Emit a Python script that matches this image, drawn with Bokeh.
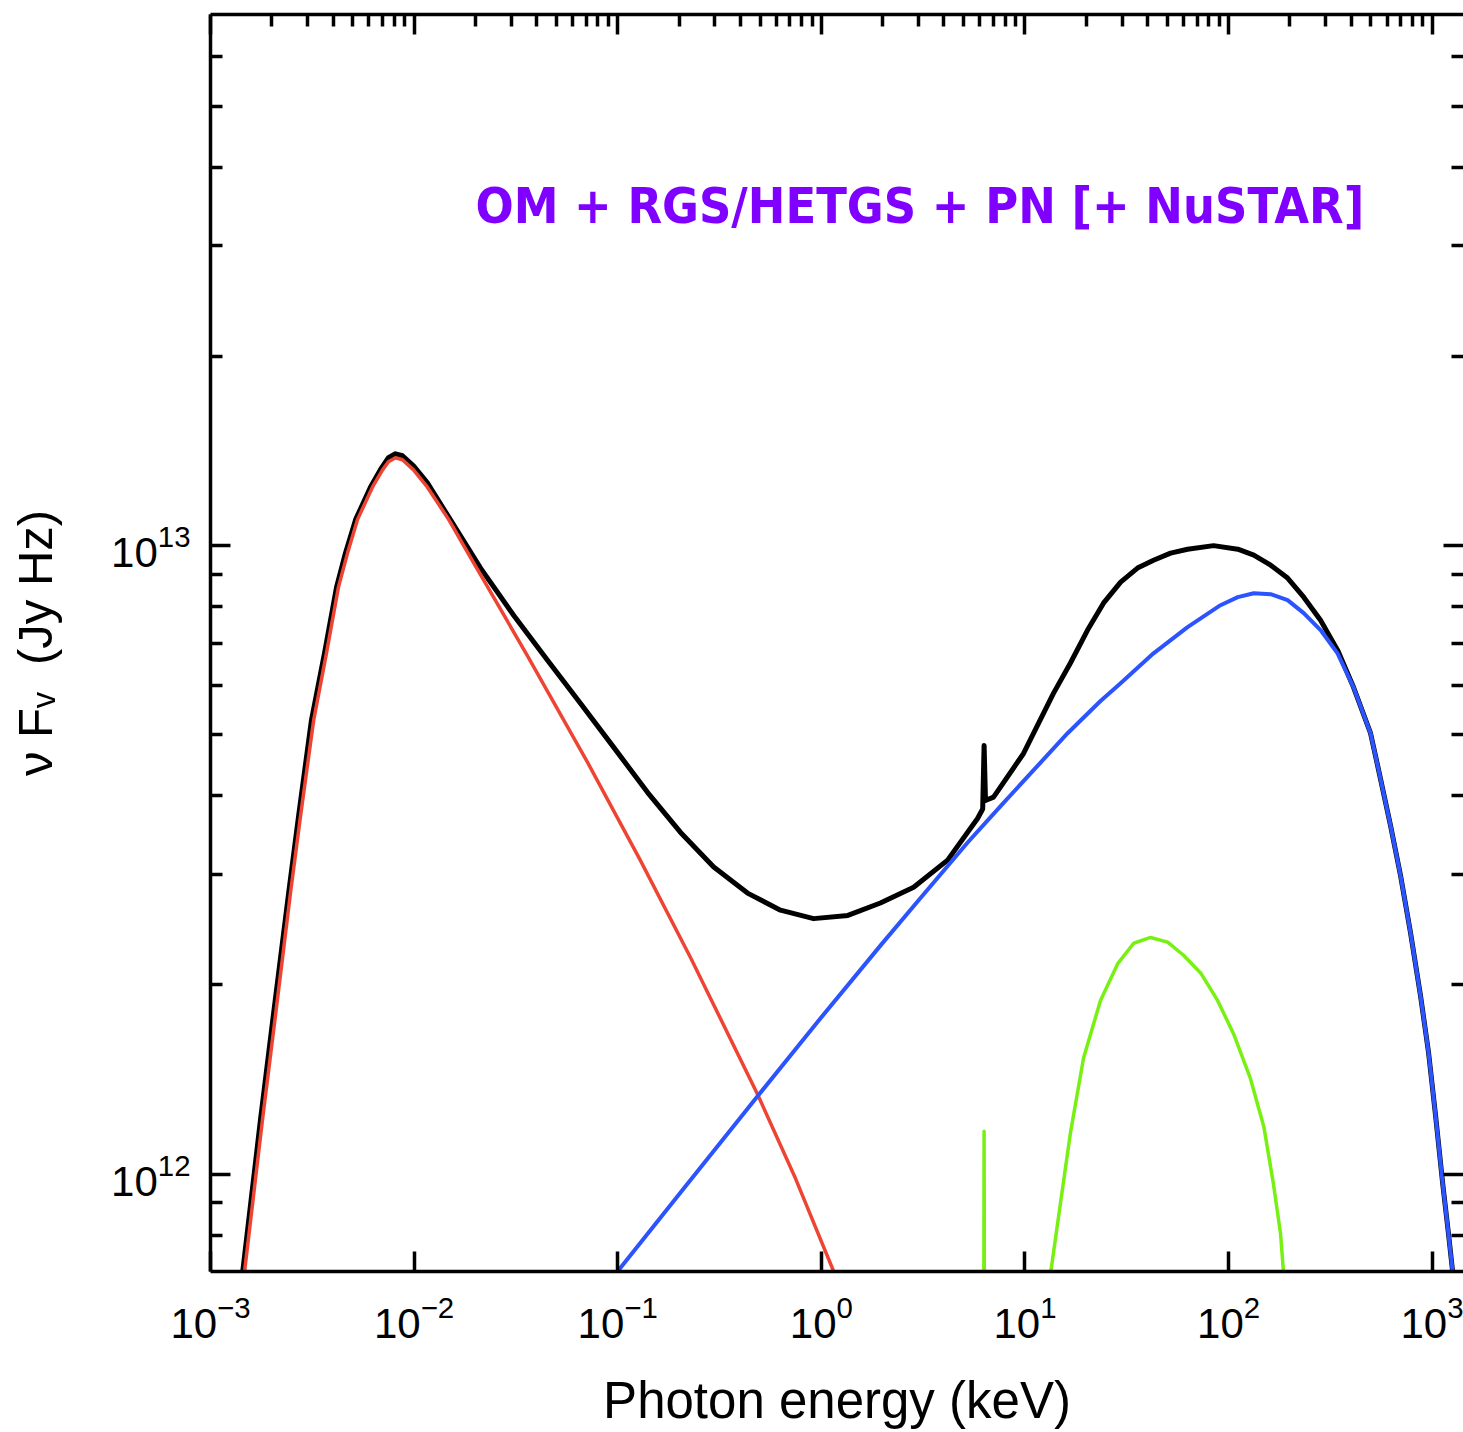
from bokeh.plotting import figure
from bokeh.models import LogAxis, FixedTicker, Label, Range1d
from bokeh.embed import file_html
from bokeh.resources import INLINE

# ---------------- data (energy in keV, nuFnu in units of 1e12 Jy Hz) ----------------
FLUX_UNIT = 1e12

total_energy = [0.00144, 0.00176, 0.00204, 0.00242, 0.00271, 0.00313, 0.00363, 0.00416, 0.0046, 0.00516,
                0.00611, 0.00692, 0.00748, 0.0081, 0.00877, 0.00993, 0.0116, 0.0148, 0.0212, 0.0308,
                0.0452, 0.0657, 0.0954, 0.140, 0.203, 0.296, 0.434, 0.630, 0.916, 1.35,
                1.95, 2.84, 4.17, 5.85, 6.2, 6.3, 6.4, 7.01, 9.84, 13.8,
                16.7, 20.3, 24.3, 29.5, 35.7, 42.8, 51.9, 62.9, 84.4, 111,
                133, 161, 195, 234, 283, 343, 411, 498, 546, 625,
                700, 783, 877, 960, 1039, 1125, 1204, 1260]
total_flux = [0.70, 1.22, 1.80, 2.80, 3.72, 5.27, 6.74, 8.59, 9.73, 11.0,
              12.4, 13.3, 13.8, 14.0, 13.9, 13.4, 12.6, 11.1, 9.21, 7.75,
              6.57, 5.61, 4.78, 4.05, 3.50, 3.08, 2.80, 2.63, 2.55, 2.58,
              2.70, 2.86, 3.16, 3.68, 3.81, 4.81, 3.93, 3.98, 4.67, 5.82,
              6.50, 7.34, 8.10, 8.75, 9.21, 9.48, 9.73, 9.87, 10.0, 9.87,
              9.66, 9.31, 8.88, 8.28, 7.61, 6.82, 5.95, 5.03, 4.39, 3.58,
              2.98, 2.42, 1.92, 1.56, 1.24, 0.969, 0.801, 0.70]

disk_energy = [0.00147, 0.0018, 0.00209, 0.00247, 0.00277, 0.00321, 0.00371, 0.00425, 0.00471, 0.00527,
               0.00625, 0.0070, 0.00748, 0.0081, 0.00877, 0.00993, 0.0116, 0.0148, 0.0183, 0.0224,
               0.0361, 0.0711, 0.129, 0.228, 0.486, 0.747, 1.15]
disk_flux = [0.70, 1.22, 1.80, 2.80, 3.72, 5.27, 6.74, 8.59, 9.73, 11.0,
             12.4, 13.2, 13.6, 13.8, 13.7, 13.2, 12.4, 11.0, 9.76, 8.72,
             6.67, 4.52, 3.16, 2.21, 1.34, 0.984, 0.70]

corona_energy = [0.0998, 0.203, 0.486, 0.991, 1.95, 3.07, 5.23, 7.59, 11.0, 16.2,
                 23.5, 29.5, 42.8, 62.9, 91.3, 111, 133, 161, 195, 234,
                 283, 343, 411, 498, 546, 625, 700, 783, 877, 960,
                 1039, 1125, 1204, 1260]
corona_flux = [0.70, 0.934, 1.33, 1.77, 2.31, 2.75, 3.37, 3.85, 4.39, 5.03,
               5.66, 6.04, 6.74, 7.42, 8.04, 8.28, 8.40, 8.37, 8.19, 7.81,
               7.34, 6.74, 5.95, 5.03, 4.39, 3.58, 2.98, 2.42, 1.92, 1.56,
               1.24, 0.969, 0.801, 0.70]

refl_energy = [13.4, 15.0, 16.7, 19.4, 23.5, 28.5, 34.2, 41.4, 50.2, 60.1,
               72.9, 88.3, 106, 128, 149, 166, 180, 186]
refl_flux = [0.70, 0.907, 1.16, 1.53, 1.89, 2.16, 2.33, 2.38, 2.34, 2.23,
             2.09, 1.89, 1.67, 1.42, 1.19, 0.966, 0.804, 0.70]

feline_energy = [6.28, 6.3, 6.32]
feline_flux = [0.65, 1.17, 0.65]

x_major = [1e-3, 1e-2, 1e-1, 1e0, 1e1, 1e2, 1e3]
y_major = [1e12, 1e13]
title_text = "OM + RGS/HETGS + PN [+ NuSTAR]"


def scaled(vals):
    return [v * FLUX_UNIT for v in vals]


x_minor = [m * 10.0 ** e for e in range(-3, 3) for m in range(2, 10)]
y_minor = [m * 1e11 for m in (8, 9)] + [m * 1e12 for m in range(2, 10)] + [m * 1e13 for m in range(2, 7)]

p = figure(width=1463, height=1432, x_axis_type="log", y_axis_type="log",
           x_range=Range1d(1e-3, 1425), y_range=Range1d(7e11, 7e13),
           output_backend="svg", toolbar_location=None,
           min_border_left=210, min_border_right=0, min_border_top=14, min_border_bottom=161)
p.outline_line_color = None
p.grid.visible = False
p.background_fill_color = "white"
p.border_fill_color = "white"

LW = 3.5
BASE_FONT = "Liberation Sans"


def style_axis(ax, minor=True, show_line=True):
    ax.axis_line_width = LW
    ax.axis_line_color = "black" if show_line else None
    ax.major_tick_line_width = LW
    ax.minor_tick_line_width = LW
    ax.major_tick_line_color = "black"
    ax.minor_tick_line_color = "black" if minor else None
    ax.major_tick_in = 20
    ax.major_tick_out = 0
    ax.minor_tick_in = 12
    ax.minor_tick_out = 0
    ax.major_label_text_color = "black"
    ax.axis_label_text_color = "black"


xt_bottom = FixedTicker(ticks=x_major, minor_ticks=x_minor)
yt = FixedTicker(ticks=y_major, minor_ticks=y_minor)

bx = p.xaxis[0]
bx.ticker = xt_bottom
style_axis(bx, minor=False)
bx.major_label_text_font = BASE_FONT
bx.major_label_text_font_size = "42px"
bx.major_label_standoff = 23
bx.axis_label = "Photon energy (keV)"
bx.axis_label_text_font = BASE_FONT
bx.axis_label_text_font_size = "51px"
bx.axis_label_text_font_style = "normal"
bx.axis_label_standoff = 31

ly = p.yaxis[0]
ly.ticker = yt
style_axis(ly)
ly.major_label_text_font = BASE_FONT
ly.major_label_text_font_size = "42px"
ly.major_label_standoff = 20
ly.axis_label = "\u03bd F\u1d65 \u00a0(Jy Hz)"
ly.axis_label_text_font = BASE_FONT
ly.axis_label_text_font_size = "49px"
ly.axis_label_text_font_style = "normal"
ly.axis_label_standoff = 46

top = LogAxis(ticker=FixedTicker(ticks=x_major, minor_ticks=x_minor))
style_axis(top)
top.major_label_overrides = {t: "" for t in x_major}
top.major_label_text_font_size = "1px"
top.major_label_standoff = 0
p.add_layout(top, "above")

right = LogAxis(ticker=FixedTicker(ticks=y_major, minor_ticks=y_minor))
style_axis(right, show_line=False)
right.major_label_overrides = {t: "" for t in y_major}
right.major_label_text_font_size = "1px"
right.major_label_standoff = 0
p.add_layout(right, "right")

p.line(total_energy, scaled(total_flux), line_color="black", line_width=5, line_join="round")
p.line(disk_energy, scaled(disk_flux), line_color="#ee4433", line_width=3.5, line_join="round")
p.line(corona_energy, scaled(corona_flux), line_color="#2b54ff", line_width=4, line_join="round")
p.line(refl_energy, scaled(refl_flux), line_color="#78f014", line_width=3.5, line_join="round")
p.line(feline_energy, scaled(feline_flux), line_color="#78f014", line_width=3.5, line_join="round")

title = Label(x=0.02, y=3.47e13, text=title_text,
              text_font="DejaVu Sans Condensed",
              text_font_size="50px", text_font_style="bold", text_color="#7f00ff",
              text_baseline="alphabetic", text_align="left")
p.add_layout(title)

open("out.html", "w").write(file_html(p, INLINE))
